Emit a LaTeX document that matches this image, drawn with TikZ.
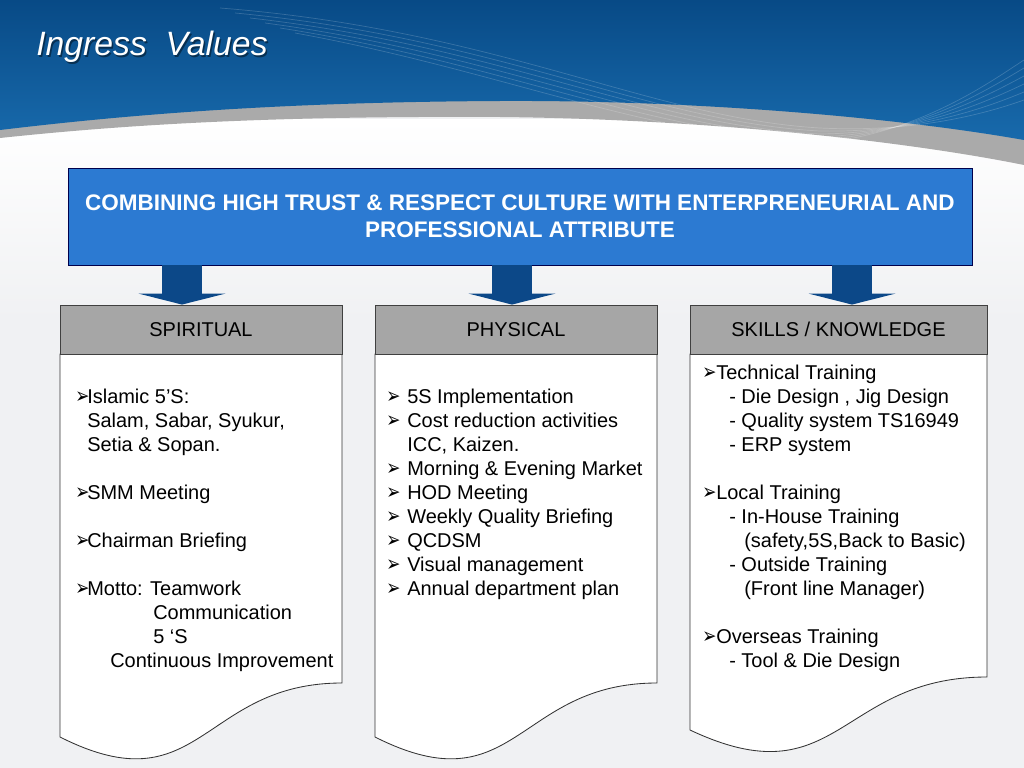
\documentclass[tikz,border=0pt]{standalone}
\usepackage{fontspec}
\setmainfont{Liberation Sans}
\newfontfamily\dejavu{DejaVu Sans}
\usetikzlibrary{arrows.meta, positioning}

\definecolor{bannerTop}{RGB}{8,74,134}
\definecolor{bannerBot}{RGB}{24,106,172}
\definecolor{bandGray}{RGB}{170,170,170}
\definecolor{bgGray}{RGB}{240,241,243}
\definecolor{topBlue}{RGB}{44,122,210}
\definecolor{arrBlue}{RGB}{12,72,136}
\definecolor{headGray}{RGB}{166,166,166}

\newlength\pxu
\setlength\pxu{0.025cm}
\newcommand\bul[1][12]{\makebox[#1\pxu][l]{\scalebox{1}[1.3]{\dejavu\fontsize{12}{12}\selectfont ➢}}}

\begin{document}
\begin{tikzpicture}[x=0.025cm, y=-0.025cm,
    txt/.style={anchor=base west, inner sep=0pt, font=\fontsize{14.2}{17}\selectfont},
    head/.style={rectangle, draw=black!75, fill=headGray, line width=0.6pt,
                 minimum width=282\pxu, minimum height=49\pxu, font=\fontsize{14.2}{17}\selectfont},
    doc/.style={draw=black!80, fill=white, line width=0.6pt},
    bigarr/.style={arrBlue, line width=1cm, -{Triangle[length=0.275cm, width=2.175cm, line width=0pt]}}
]
\useasboundingbox (0,0) rectangle (1024,768);
\fill[bgGray] (0,0) rectangle (1024,768);
\shade[top color=white, bottom color=bgGray] (0,120) rectangle (1024,320);

% banner
\fill[bandGray] (0,0) -- (1024,0) -- (1024,165) .. controls (900,140) and (700,119) .. (500,117)
    .. controls (300,116) and (150,122) .. (0,138) -- cycle;
\shade[top color=bannerTop, bottom color=bannerBot] (0,0) -- (1024,0) -- (1024,140)
    .. controls (900,118) and (700,100) .. (500,101) .. controls (300,102) and (150,112) .. (0,130) -- cycle;
\foreach \i in {0,...,5}
  \draw[white, opacity=0.18, line width=0.5pt] (220+15*\i,8+5*\i) .. controls (500,30+8*\i) and (650,118+4*\i) .. (820,128+3*\i)
      .. controls (920,133) and (990,112-6*\i) .. (1024,100-8*\i);

\node[anchor=base west, inner sep=0pt, text=black, opacity=0.45, font=\itshape\fontsize{24}{24}\selectfont] (tshadow) at (37.5,57.5) {Ingress\ \ Values};
\node[anchor=base west, inner sep=0pt, text=white, font=\itshape\fontsize{24}{24}\selectfont] (title) at (36,56) {Ingress\ \ Values};

\node[draw=black!70!blue, fill=topBlue, text=white, line width=0.6pt, minimum width=904\pxu, minimum height=97\pxu,
      align=center, font=\bfseries\fontsize{16}{19.2}\selectfont] (top) at (520,216.5)
      {COMBINING HIGH TRUST \& RESPECT CULTURE WITH ENTERPRENEURIAL AND\\PROFESSIONAL ATTRIBUTE};

\foreach \l/\r/\yr/\yl/\yc in {60/342/683/737/808, 375/657/683/737/808, 690/987/677/730/800}
  \draw[doc] (\l,354) -- (\r,354) -- (\r,\yr) .. controls ({(\l+\r)/2},\yr) and ({(\l+\r)/2},\yc) .. (\l,\yl) -- cycle;

\node[head] (spi) at (201,329.5) {SPIRITUAL};
\node[head] (phy) at (516,329.5) {PHYSICAL};
\node[head, minimum width=297\pxu] (skl) at (838.5,329.5) {SKILLS / KNOWLEDGE};

\coordinate (aspi) at (182,0);
\coordinate (aphy) at (512,0);
\coordinate (askl) at (852,0);
\foreach \h in {spi,phy,skl}
  \draw[bigarr] (top.south -| a\h) -- (\h.north -| a\h);

\foreach \x/\y/\t [count=\i] in {75/403/{\bul Islamic 5’S:}, 87/427/{Salam, Sabar, Syukur,}, 87/451/{Setia \& Sopan.},
    75/499/{\bul SMM Meeting}, 75/547/{\bul Chairman Briefing}, 75/595/{\bul Motto: Teamwork},
    153/619/{Communication}, 153/643/{5 ‘S}, 110/667/{Continuous Improvement}}
  \node[txt] (s\i) at (\x,\y) {\t};

\foreach \x/\y/\t [count=\i] in {386/403/{\bul[21]5S Implementation}, 386/427/{\bul[21]Cost reduction activities},
    407/451/{ICC, Kaizen.}, 386/475/{\bul[21]Morning \& Evening Market}, 386/499/{\bul[21]HOD Meeting},
    386/523/{\bul[21]Weekly Quality Briefing}, 386/547/{\bul[21]QCDSM}, 386/571/{\bul[21]Visual management},
    386/595/{\bul[21]Annual department plan}}
  \node[txt] (p\i) at (\x,\y) {\t};

\foreach \x/\y/\t [count=\i] in {702/379/{\bul[14]Technical Training}, 729/403/{- Die Design , Jig Design},
    729/427/{- Quality system TS16949}, 729/451/{- ERP system}, 702/499/{\bul[14]Local Training},
    729/523/{- In-House Training}, 744/547/{(safety,5S,Back to Basic)}, 729/571/{- Outside Training},
    744/595/{(Front line Manager)}, 702/643/{\bul[14]Overseas Training}, 729/667/{- Tool \& Die Design}}
  \node[txt] (k\i) at (\x,\y) {\t};
\end{tikzpicture}
\end{document}
